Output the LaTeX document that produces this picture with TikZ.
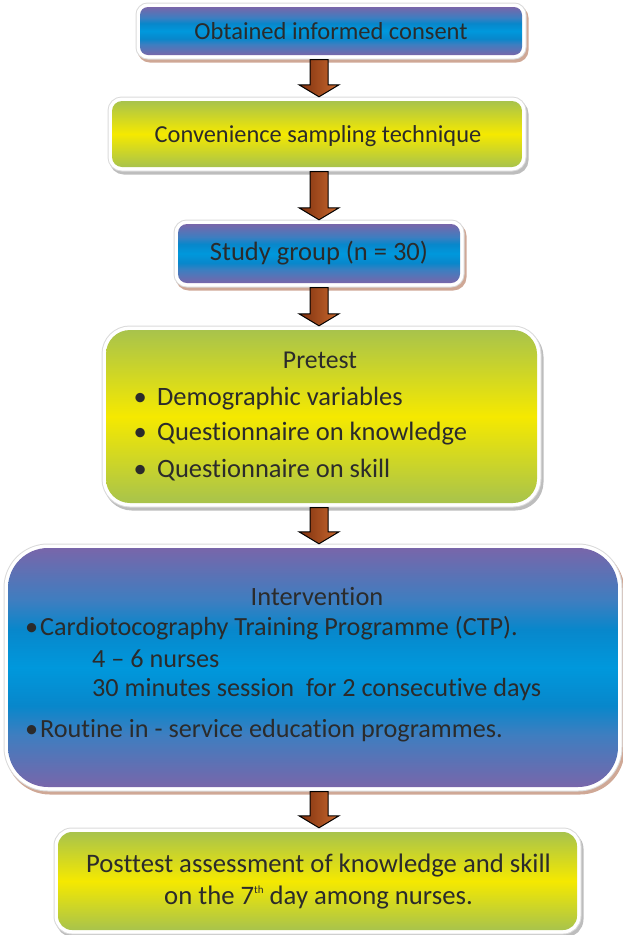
\documentclass[tikz,border=0pt]{standalone}
\usepackage{fontspec}
\setmainfont{Carlito}[Ligatures={NoCommon}]
\usetikzlibrary{calc}
\definecolor{bpurple}{HTML}{7866AA}
\definecolor{bmix}{HTML}{3E7EC0}
\definecolor{bdeep}{HTML}{0887CB}
\definecolor{bblue}{HTML}{0098DC}
\definecolor{gedge}{HTML}{A8C34C}
\definecolor{gmid}{HTML}{F5E900}
\definecolor{txt}{HTML}{2B2B2B}
\definecolor{adark}{HTML}{7E300E}
\definecolor{alight}{HTML}{C9692F}
\definecolor{shbrown}{HTML}{CFA896}
\definecolor{shgray}{HTML}{BDBDBD}
\definecolor{frameline}{HTML}{DADADA}
\pgfdeclareverticalshading{blueband}{100bp}{color(0bp)=(bpurple); color(25bp)=(bpurple); color(36bp)=(bmix); color(42bp)=(bdeep); color(50bp)=(bblue); color(58bp)=(bdeep); color(64bp)=(bmix); color(75bp)=(bpurple); color(100bp)=(bpurple)}
\pgfdeclareverticalshading{greenband}{100bp}{color(0bp)=(gedge); color(25bp)=(gedge); color(50bp)=(gmid); color(75bp)=(gedge); color(100bp)=(gedge)}
\tikzset{
  framed/.style={
    preaction={draw=#1, line width=9pt, transform canvas={shift={(2pt,-3pt)}}},
    preaction={draw=frameline, line width=9pt},
    preaction={draw=white, line width=7pt}},
  boxbase/.style={rectangle, inner sep=0pt, draw=none},
  bluebox/.style={boxbase, framed=shbrown, shading=blueband},
  greenbox/.style={boxbase, framed=shgray, shading=greenband},
  lbl/.style={text=txt, inner sep=0pt, anchor=base},
  lblw/.style={text=txt, inner sep=0pt, anchor=base west},
  blockarrow/.style={draw=black, line width=1pt, line join=miter, left color=adark, right color=alight}
}
\newcommand\fs[1]{\fontsize{#1}{#1}\selectfont}
\newcommand\flowarr[2]{\path[blockarrow] let \p1=(axis |- #1.south), \p2=(axis |- #2.north) in
  ({\x1-9pt},{\y1-4.5pt}) -- ({\x1+9pt},{\y1-4.5pt}) -- ({\x1+9pt},{\y2+16pt}) -- ({\x1+20pt},{\y2+16pt}) --
  ({\x1},{\y2+4pt}) -- ({\x1-20pt},{\y2+16pt}) -- ({\x1-9pt},{\y2+16pt}) -- cycle;}
\begin{document}
\begin{tikzpicture}[x=1pt,y=-1pt]
\useasboundingbox (0,0) rectangle (622,935);
\coordinate (axis) at (319,0);
% boxes
\node[bluebox, rounded corners=8pt, minimum width=382pt, minimum height=48pt] (b1) at (331,31) {};
\node[greenbox, rounded corners=10pt, minimum width=410pt, minimum height=66pt] (b2) at (317,134) {};
\node[bluebox, rounded corners=9pt, minimum width=282pt, minimum height=59pt] (b3) at (319,253.5) {};
\node[greenbox, rounded corners=24pt, minimum width=431pt, minimum height=173pt] (b4) at (321.5,416.5) {};
\node[bluebox, rounded corners=40pt, minimum width=610pt, minimum height=239pt] (b5) at (313,667.5) {};
\node[greenbox, rounded corners=14pt, minimum width=519pt, minimum height=98pt] (b6) at (317.5,881) {};
% texts
\node[lbl, font=\fs{24.5}] (t1) at (331,39.5) {Obtained informed consent};
\node[lbl, font=\fs{24.4}] (t2) at (318,142) {Convenience sampling technique};
\node[lbl, font=\fs{26.5}] (t3) at (319,260) {Study group (n = 30)};
\node[lbl, font=\fs{25.7}] (t4) at (320,368) {Pretest};
\node[lblw, font=\fs{26.5}] (t4a) at (140,405) {\makebox[0pt][c]{\textbullet}\hspace{17pt}Demographic variables};
\node[lblw, font=\fs{26.5}] (t4b) at (140,440) {\makebox[0pt][c]{\textbullet}\hspace{17pt}Questionnaire on knowledge};
\node[lblw, font=\fs{26.5}] (t4c) at (140,477) {\makebox[0pt][c]{\textbullet}\hspace{17pt}Questionnaire on skill};
\node[lbl, font=\fs{26.4}] (t5) at (317,605) {Intervention};
\node[lblw, font=\fs{26.2}] (t5a) at (31.5,635) {\makebox[0pt][c]{\textbullet}\hspace{8.5pt}Cardiotocography Training Programme (CTP).};
\node[lblw, font=\fs{26.2}] (t5b) at (92,667) {4 -- 6 nurses};
\node[lblw, font=\fs{26.2}] (t5c) at (92,696) {30 minutes session\ \ for 2 consecutive days};
\node[lblw, font=\fs{26.2}] (t5d) at (31.5,737) {\makebox[0pt][c]{\textbullet}\hspace{8.5pt}Routine in - service education programmes.};
\node[lbl, font=\fs{26.7}] (t6a) at (318.5,872) {Posttest assessment of knowledge and skill};
\node[lbl, font=\fs{26.7}] (t6b) at (318.5,904) {on the 7{\fs{11}\raisebox{11pt}{th}} day among nurses.};
% arrows
\flowarr{b1}{b2}
\flowarr{b2}{b3}
\flowarr{b3}{b4}
\flowarr{b4}{b5}
\flowarr{b5}{b6}
\end{tikzpicture}
\end{document}
